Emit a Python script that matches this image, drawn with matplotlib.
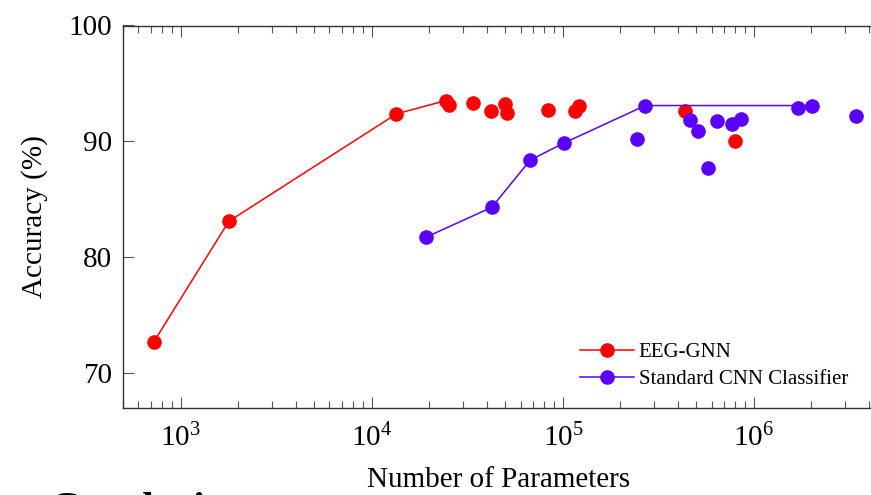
#!/usr/bin/env python3

import matplotlib
matplotlib.use('Agg')
import matplotlib.pyplot as plt
import numpy as np

plt.rcParams['font.family'] = ['Liberation Serif', 'DejaVu Serif']
plt.rcParams['mathtext.fontset'] = 'custom'
plt.rcParams['mathtext.rm'] = 'Liberation Serif'
plt.rcParams['mathtext.it'] = 'Liberation Serif:italic'

# EEG-GNN: pareto front (joined by a line) and remaining models
gnn_front_params = [723, 1783, 13450, 24400]
gnn_front_acc = [72.74, 83.12, 92.38, 93.53]
gnn_other_params = [25400, 33700, 42000, 49900, 50700, 83200, 116000, 121000, 438000, 794000]
gnn_other_acc = [93.16, 93.30, 92.64, 93.22, 92.44, 92.75, 92.67, 93.07, 92.64, 90.00]

# standard CNN classifier: pareto front and remaining models
cnn_front_params = [19300, 42400, 67500, 101000, 270000, 2020000]
cnn_front_acc = [81.77, 84.32, 88.40, 89.86, 93.10, 93.10]
cnn_other_params = [244000, 460000, 509000, 577000, 638000, 764000, 858000, 1706000, 3420000]
cnn_other_acc = [90.23, 91.87, 90.92, 87.71, 91.76, 91.50, 91.93, 92.87, 92.24]

red = '#ff0000'
purple = '#5a00ff'

fig = plt.figure(figsize=(8.71, 4.95), dpi=100)
ax = fig.add_axes([123.3/871, 1-408.3/495, (873-123.3)/871, (408.3-25.5)/495])

ax.plot(gnn_front_params, gnn_front_acc, '-o', color=red, lw=1.1, markersize=9.5, label='EEG-GNN')
ax.plot(gnn_other_params, gnn_other_acc, 'o', color=red, markersize=9.5)
ax.plot(cnn_front_params, cnn_front_acc, '-o', color=purple, lw=1.1, markersize=9.5,
        label='Standard CNN Classifier')
ax.plot(cnn_other_params, cnn_other_acc, 'o', color=purple, markersize=9.5)

ax.set_xscale('log')
ax.set_xlim(500, 4.2e6)
ax.set_ylim(67, 100)
ax.set_yticks([70, 80, 90, 100])
ax.minorticks_on()
ax.yaxis.set_minor_locator(matplotlib.ticker.NullLocator())
ax.tick_params(which='both', direction='in', top=True, right=False, colors='#555555',
               labelcolor='black', labelsize=21)
ax.tick_params(which='major', length=8, width=0.8)
ax.tick_params(which='minor', length=5, width=0.8)
ax.tick_params(axis='y', pad=8)
ax.tick_params(axis='x', pad=11)
for s in ax.spines.values():
  s.set_color('#333333')
  s.set_linewidth(1.0)

ax.set_xlabel('Number of Parameters', fontsize=21, labelpad=11)
ax.set_ylabel('Accuracy (%)', fontsize=21, labelpad=15)

ax.legend(loc='lower right', bbox_to_anchor=(0.9666, 0.05), frameon=False, fontsize=15,
          borderpad=0, borderaxespad=0, handlelength=2.6, handletextpad=0.2, labelspacing=0.35)

# section heading of the page below, cut off by the crop
fig.text(50/871, 1-492/495, 'Conclusion', fontsize=30, fontweight='bold', va='top', ha='left')

fig.savefig('out.png', dpi=100)
